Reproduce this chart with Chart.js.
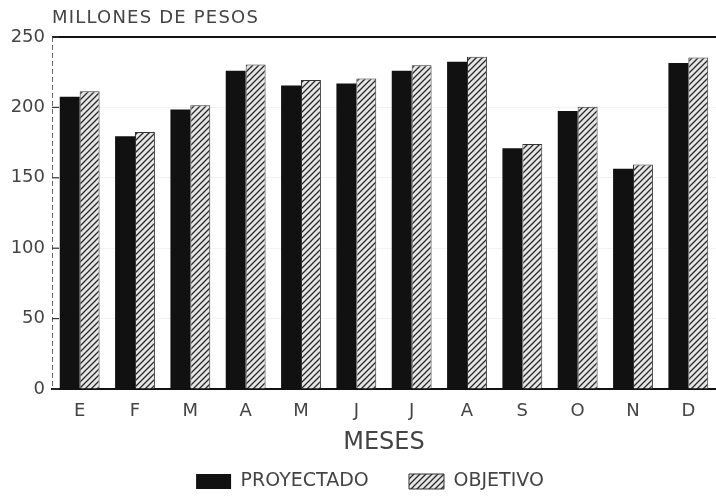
<!DOCTYPE html>
<html>
<head>
<meta charset="utf-8">
<style>
  html, body { margin: 0; padding: 0; background: #fff; }
  #wrap { width: 716px; height: 499px; }
</style>
<script src="https://cdn.jsdelivr.net/npm/chart.js@4.4.1/dist/chart.umd.min.js"></script>
</head>
<body>
<div id="wrap"><canvas id="chart" width="716" height="499"></canvas></div>
<script>
// months (Enero .. Diciembre)
const months = ['E', 'F', 'M', 'A', 'M', 'J', 'J', 'A', 'S', 'O', 'N', 'D'];
// millones de pesos
const proyectado = [207.5, 179.5, 198.5, 226, 215.5, 217, 226, 232.5, 171, 197.5, 156.5, 231.5];
const objetivo   = [211.5, 182.5, 201.5, 230.5, 219.5, 220.5, 230, 236, 174, 200.5, 159.5, 235.5];
const yTicks = [0, 50, 100, 150, 200, 250];

const FONT = 'DejaVu Sans';
const INK = '#444';

// hatched fill for OBJETIVO
function hatch() {
  const c = document.createElement('canvas');
  c.width = 6; c.height = 6;
  const g = c.getContext('2d');
  g.fillStyle = '#e6e6e6';
  g.fillRect(0, 0, 6, 6);
  g.strokeStyle = '#2a2a2a';
  g.lineWidth = 1.3;
  g.beginPath();
  g.moveTo(0, 6); g.lineTo(6, 0);
  g.moveTo(-3, 3); g.lineTo(3, -3);
  g.moveTo(3, 9); g.lineTo(9, 3);
  g.stroke();
  return g.createPattern(c, 'repeat');
}

// title at top-left, dashed left axis, short inward ticks
const extras = {
  id: 'extras',
  afterLayout(chart) {
    // legend sits a little right of centre in the print
    chart.legend.left += 12;
    chart.legend.right += 12;
  },
  afterDraw(chart) {
    const { ctx, chartArea } = chart;
    const y = chart.scales.y;
    ctx.save();
    ctx.fillStyle = INK;
    ctx.font = '18px "' + FONT + '"';
    ctx.letterSpacing = '1.2px';
    ctx.textBaseline = 'middle';
    ctx.textAlign = 'left';
    ctx.fillText('MILLONES DE PESOS', chartArea.left, 18);
    ctx.letterSpacing = '0px';

    ctx.strokeStyle = '#666';
    ctx.lineWidth = 1;
    ctx.setLineDash([5, 3]);
    ctx.beginPath();
    ctx.moveTo(chartArea.left + 0.5, chartArea.top);
    ctx.lineTo(chartArea.left + 0.5, chartArea.bottom);
    ctx.stroke();
    ctx.setLineDash([]);

    ctx.strokeStyle = '#333';
    ctx.lineWidth = 1.2;
    yTicks.forEach(v => {
      const py = y.getPixelForValue(v);
      ctx.beginPath();
      ctx.moveTo(chartArea.left, py);
      ctx.lineTo(chartArea.left + 7, py);
      ctx.stroke();
    });
    ctx.restore();
  }
};

new Chart(document.getElementById('chart'), {
  type: 'bar',
  data: {
    labels: months,
    datasets: [{
      label: 'PROYECTADO',
      data: proyectado,
      backgroundColor: '#111',
      borderColor: '#111',
      borderWidth: 0
    }, {
      label: 'OBJETIVO',
      data: objetivo,
      backgroundColor: hatch(),
      borderColor: '#333',
      borderWidth: 1
    }]
  },
  options: {
    responsive: false,
    animation: false,
    layout: { padding: { top: 37, right: 0, left: 0, bottom: -2 } },
    datasets: { bar: { barPercentage: 1.0, categoryPercentage: 0.72 } },
    plugins: {
      tooltip: { enabled: false },
      legend: {
        position: 'bottom',
        labels: {
          color: INK,
          font: { family: FONT, size: 19 },
          boxWidth: 35,
          boxHeight: 15,
          padding: 4,
          // wider gap between the two entries, as in the print
          generateLabels(chart) {
            const items = Chart.defaults.plugins.legend.labels.generateLabels(chart);
            items[0].text = items[0].text + '      ';
            return items;
          }
        }
      }
    },
    scales: {
      x: {
        afterFit(s) { s.height = 79; },
        grid: { display: false },
        border: { display: true, color: '#111', width: 2 },
        ticks: { color: INK, font: { family: FONT, size: 18 }, padding: 4 },
        title: {
          display: true,
          text: 'MESES',
          color: INK,
          font: { family: FONT, size: 24 },
          padding: { top: 6, bottom: 11 }
        }
      },
      y: {
        min: 0,
        max: 250,
        afterFit(s) { s.width = 52; },
        afterBuildTicks(s) { s.ticks = yTicks.map(v => ({ value: v })); },
        grid: {
          drawTicks: false,
          color: ctx => ctx.tick && ctx.tick.value === 250 ? '#111' : 'rgba(0,0,0,0.05)',
          lineWidth: ctx => ctx.tick && ctx.tick.value === 250 ? 2 : 1
        },
        border: { display: false },
        ticks: { color: INK, font: { family: FONT, size: 18 }, padding: 7 }
      }
    }
  },
  plugins: [extras]
});
</script>
</body>
</html>
